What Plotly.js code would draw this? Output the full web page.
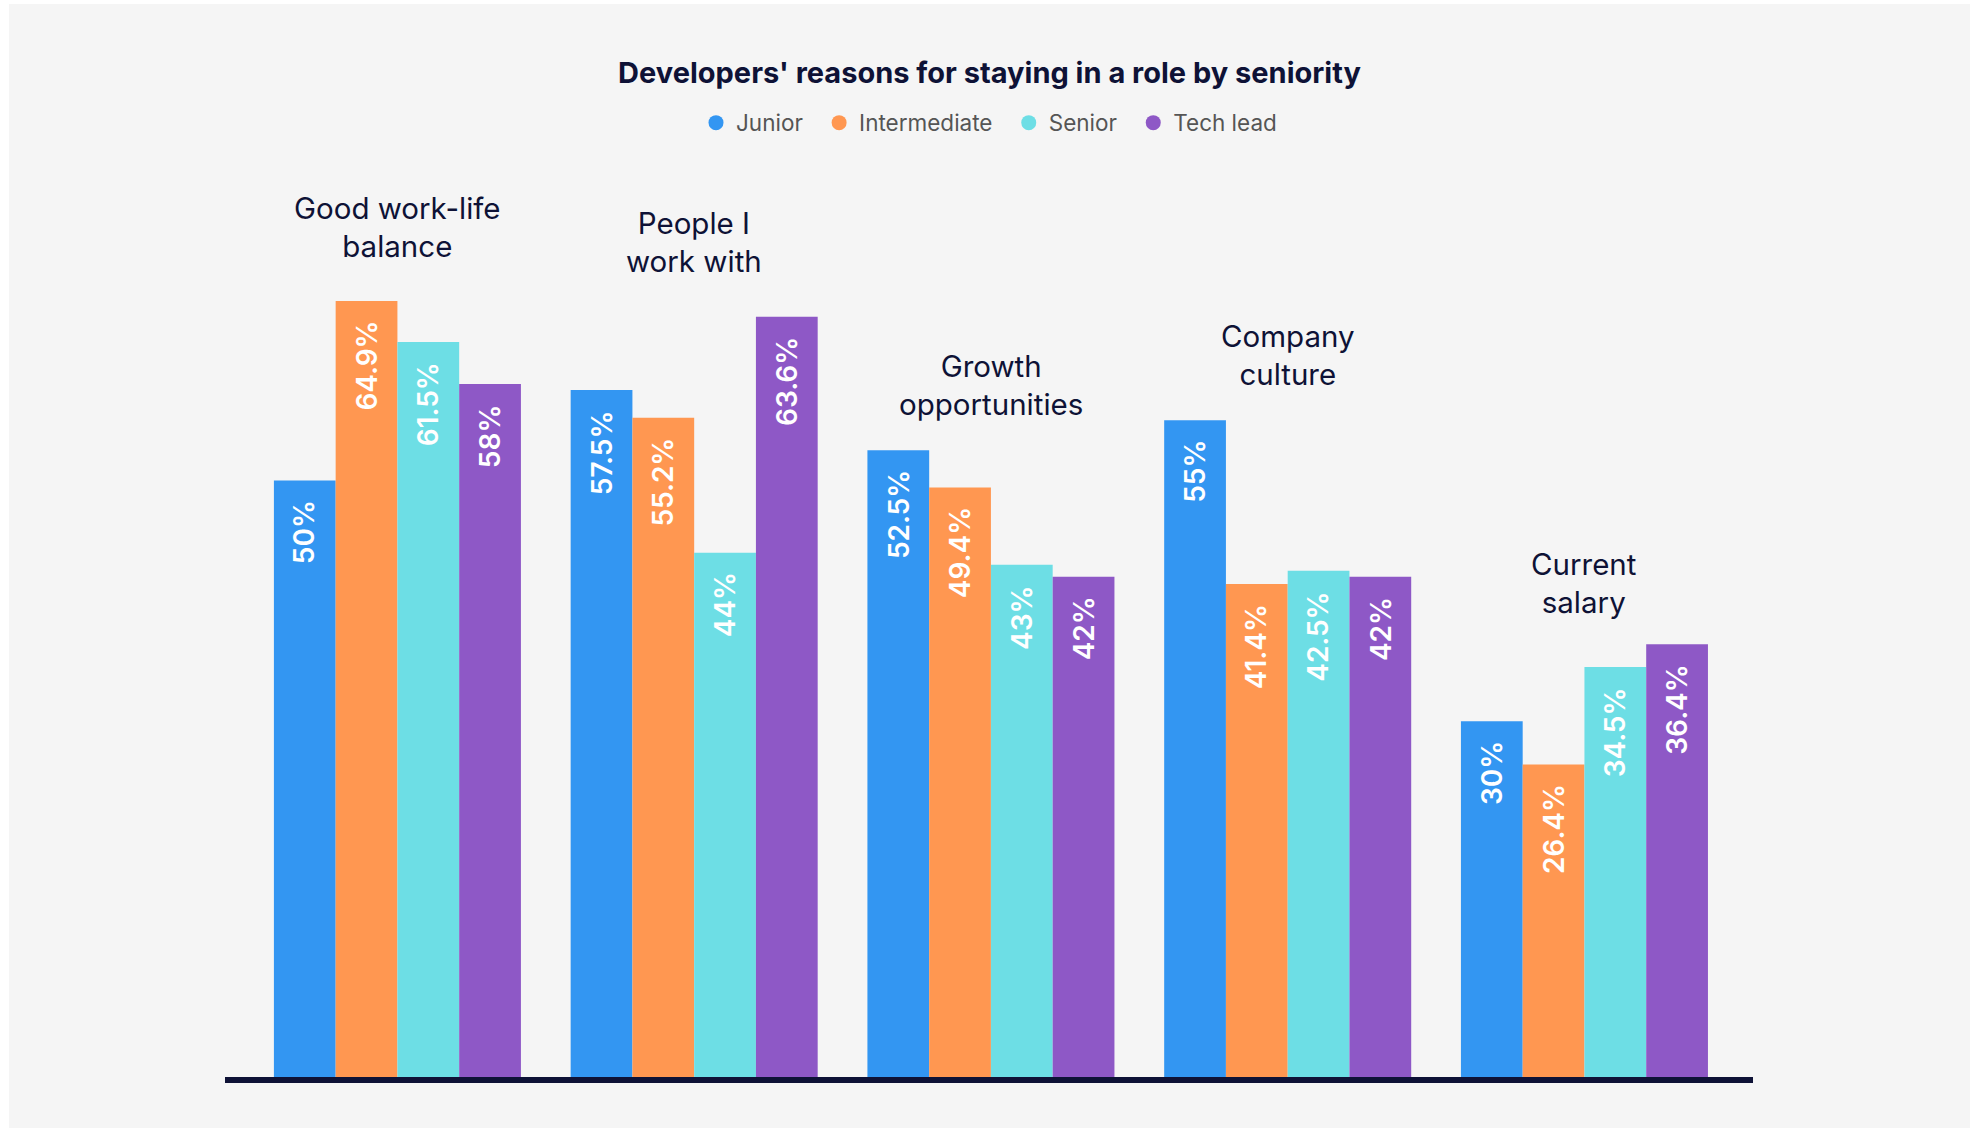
<!DOCTYPE html>
<html>
<head>
<meta charset="utf-8">
<script src="https://cdn.plot.ly/plotly-3.0.1.min.js"></script>
<style>
  html, body { margin: 0; padding: 0; background: #ffffff; }
  #chart { position: absolute; left: 9px; top: 4px; width: 1961px; height: 1124px; }
</style>
</head>
<body>
<div id="chart"></div>
<script>
// Reasons for staying, one value per reason for each seniority level (percent)
const categories = ['Good work-life balance', 'People I work with', 'Growth opportunities', 'Company culture', 'Current salary'];
const categoryLabels = ['Good work-life<br>balance', 'People I<br>work with', 'Growth<br>opportunities', 'Company<br>culture', 'Current<br>salary'];
const seniority = ['Junior', 'Intermediate', 'Senior', 'Tech lead'];
const junior = [50, 57.5, 52.5, 55, 30];
const intermediate = [64.9, 55.2, 49.4, 41.4, 26.4];
const senior = [61.5, 44, 43, 42.5, 34.5];
const techLead = [58, 63.6, 42, 42, 36.4];

// Styling
const colors = ['#3396f2', '#ff9751', '#6ddee5', '#8e58c6'];
const FONT = 'Inter, "Noto Sans", sans-serif';
const NAVY = '#0e1236';
const BARGAP = 0.1676;
const PX_PER_PCT = 12.04;
const PLOT_TOP = 127;      // px from top of the chart div
const PLOT_BOTTOM = 1073;  // px from top of the chart div (top edge of the baseline)
const ZERO_BELOW = 5.4;    // zero sits under the thick baseline, bars are clipped at its top edge
const PLOT_H = PLOT_BOTTOM - PLOT_TOP;
// lift (px) of each reason's caption above its tallest bar
const captionLift = [35, 36, 26, 26, 22];

const series = [junior, intermediate, senior, techLead];

const traces = series.map((vals, i) => ({
  type: 'bar',
  name: seniority[i],
  x: categories,
  y: vals,
  marker: { color: colors[i], line: { width: 0 } },
  showlegend: false,
  hoverinfo: 'skip'
}));

// circle markers for the legend (en space widens the gap between entries)
seniority.forEach((name, i) => {
  traces.push({
    type: 'scatter',
    mode: 'markers',
    name: i < seniority.length - 1 ? name + '\u2002' : name,
    x: [null],
    y: [null],
    marker: { color: colors[i], size: 15, symbol: 'circle' },
    showlegend: true,
    hoverinfo: 'skip'
  });
});

const annotations = [];
const barW = (1 - BARGAP) / series.length;
series.forEach((vals, i) => {
  vals.forEach((v, k) => {
    annotations.push({
      x: k - (1 - BARGAP) / 2 + (i + 0.5) * barW,
      y: v,
      xref: 'x', yref: 'y',
      text: v + '%',
      textangle: -90,
      showarrow: false,
      xanchor: 'center',
      yanchor: 'top',
      yshift: -18,
      font: { family: FONT, size: 28, color: '#ffffff', weight: 600 }
    });
  });
});

categoryLabels.forEach((lbl, k) => {
  const top = Math.max(...series.map(s => s[k]));
  annotations.push({
    x: k, y: top,
    xref: 'x', yref: 'y',
    text: lbl,
    showarrow: false,
    xanchor: 'center',
    yanchor: 'bottom',
    yshift: captionLift[k],
    align: 'center',
    font: { family: FONT, size: 29.5, color: NAVY }
  });
});

const layout = {
  width: 1961,
  height: 1124,
  paper_bgcolor: '#f5f5f5',
  plot_bgcolor: 'rgba(0,0,0,0)',
  margin: { l: 216, r: 217, t: PLOT_TOP, b: 1124 - PLOT_BOTTOM, pad: 0 },
  barmode: 'group',
  bargap: BARGAP,
  bargroupgap: 0,
  title: {
    text: "Developers' reasons for staying in a role by seniority",
    x: 0.5, xref: 'container', xanchor: 'center',
    y: 1 - 69 / 1124, yref: 'container', yanchor: 'middle',
    font: { family: FONT, size: 29, color: NAVY, weight: 700 }
  },
  showlegend: true,
  legend: {
    orientation: 'h',
    x: 0.5, xanchor: 'center',
    y: (PLOT_BOTTOM - 119) / PLOT_H, yanchor: 'middle',
    bgcolor: 'rgba(0,0,0,0)',
    font: { family: FONT, size: 22.5, color: '#555555' },
    itemclick: false, itemdoubleclick: false
  },
  xaxis: {
    type: 'category',
    range: [-0.581, 4.568],
    showline: true,
    linecolor: NAVY,
    linewidth: 6,
    showticklabels: false,
    ticks: '',
    showgrid: false,
    zeroline: false,
    fixedrange: true
  },
  yaxis: {
    range: [ZERO_BELOW / PX_PER_PCT, (PLOT_H + ZERO_BELOW) / PX_PER_PCT],
    visible: false,
    showgrid: false,
    zeroline: false,
    fixedrange: true
  },
  annotations: annotations
};

Plotly.newPlot('chart', traces, layout, { staticPlot: true, displayModeBar: false });
</script>
</body>
</html>
